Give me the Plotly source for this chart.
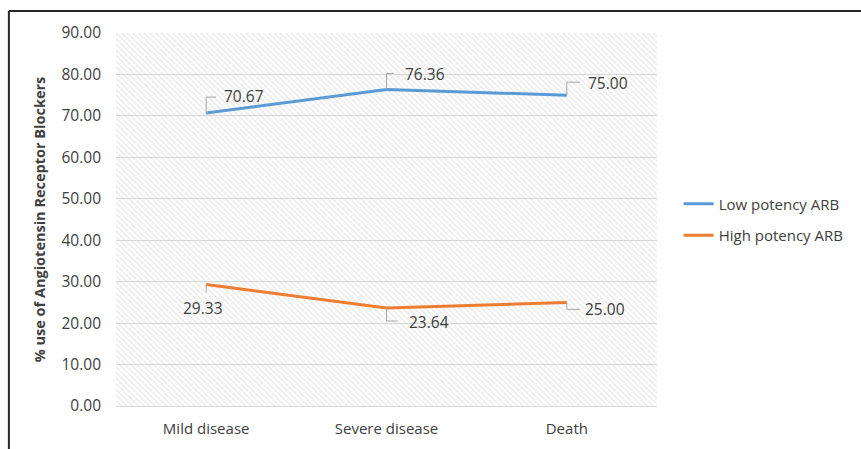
import plotly.graph_objects as go

# Outcome groups and ARB usage shares (%)
categories = ["Mild disease", "Severe disease", "Death"]
low_potency = [70.67, 76.36, 75.00]
high_potency = [29.33, 23.64, 25.00]
y_ticks = [0, 10, 20, 30, 40, 50, 60, 70, 80, 90]

Y_MAX = 90
BLUE = "#5B9BD5"
ORANGE = "#ED7D31"
TEXT = "#404040"
LEADER = "#A6A6A6"
FONT = "Open Sans"

# label placement (pixel offsets from the point) and elbow leader paths
low_style = [
    dict(dx=16, dy=17, anchor="left", path="M0,0 V16 H10"),
    dict(dx=16, dy=16, anchor="left", path="M0,0 V16 H7"),
    dict(dx=19, dy=12, anchor="left", path="M0,0 V13 H13"),
]
high_style = [
    dict(dx=-3, dy=-24, anchor="center", path="M0,0 V-8"),
    dict(dx=20, dy=-14, anchor="left", path="M0,0 V-13 H11"),
    dict(dx=16, dy=-7, anchor="left", path="M0,0 V-7 H13"),
]

fig = go.Figure()

# hatched plot-area background
fig.add_trace(go.Bar(
    x=categories, y=[Y_MAX] * len(categories), width=1,
    marker=dict(color="rgba(0,0,0,0)", line=dict(width=0),
                pattern=dict(shape="\\", fgcolor="#CFCFCF", bgcolor="rgba(0,0,0,0)",
                             size=4, solidity=0.3)),
    showlegend=False, hoverinfo="skip",
))

fig.add_trace(go.Scatter(
    x=categories, y=low_potency, mode="lines", name="Low potency ARB",
    line=dict(color=BLUE, width=3), legendgroup="low",
))
fig.add_trace(go.Scatter(
    x=categories, y=high_potency, mode="lines", name="High potency ARB",
    line=dict(color=ORANGE, width=3), legendgroup="high",
))

annotations = []
shapes = []
for series, styles in ((low_potency, low_style), (high_potency, high_style)):
    for cat, val, st in zip(categories, series, styles):
        annotations.append(dict(
            x=cat, y=val, xref="x", yref="y", text=f"{val:.2f}", showarrow=False,
            xanchor=st["anchor"], yanchor="middle", xshift=st["dx"], yshift=st["dy"],
            font=dict(family=FONT, size=15.5, color=TEXT),
        ))
        shapes.append(dict(
            type="path", xref="x", yref="y", xsizemode="pixel", ysizemode="pixel",
            xanchor=cat, yanchor=val, path=st["path"],
            line=dict(color=LEADER, width=1),
        ))

# outer frame (top and left edges)
shapes.append(dict(type="line", xref="paper", yref="paper", x0=-0.198, x1=1.4,
                   y0=1.059, y1=1.059, line=dict(color="#262626", width=2)))
shapes.append(dict(type="line", xref="paper", yref="paper", x0=-0.198, x1=-0.198,
                   y0=1.059, y1=-0.2, line=dict(color="#262626", width=2)))

fig.update_layout(
    width=861, height=449,
    margin=dict(l=116, r=204, t=33, b=43),
    paper_bgcolor="white", plot_bgcolor="white",
    font=dict(family=FONT, size=15, color=TEXT),
    bargap=0,
    annotations=annotations, shapes=shapes,
    legend=dict(x=1.04, xanchor="left", y=0.5, yanchor="middle",
                font=dict(family=FONT, size=15, color=TEXT),
                tracegroupgap=9, bgcolor="rgba(0,0,0,0)"),
    xaxis=dict(type="category", range=[-0.5, 2.5], showgrid=False,
               showline=False, ticks="", ticklabelstandoff=12,
               tickfont=dict(family=FONT, size=15, color=TEXT)),
    yaxis=dict(range=[0, Y_MAX], tickvals=y_ticks, tickformat=".2f",
               showgrid=True, gridcolor="#D9D9D9", gridwidth=1,
               zeroline=True, zerolinecolor="#D9D9D9", zerolinewidth=1,
               ticks="", ticklabelstandoff=14,
               tickfont=dict(family=FONT, size=15.5, color=TEXT),
               title=dict(text="<b>% use of Angiotensin Receptor Blockers</b>",
                          font=dict(family=FONT, size=14.5, color=TEXT), standoff=12)),
)

fig.write_html("out.html")
